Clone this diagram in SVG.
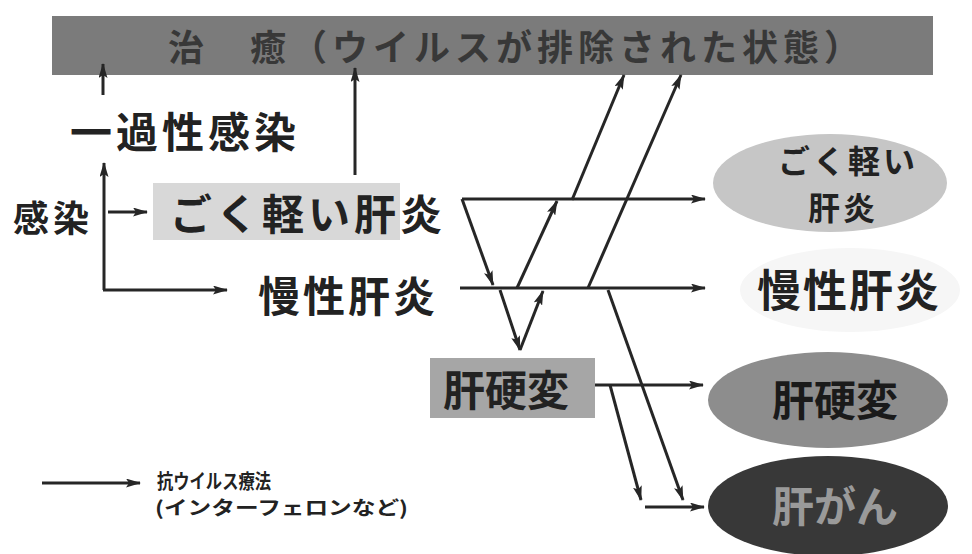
<svg xmlns="http://www.w3.org/2000/svg" width="972" height="554" viewBox="0 0 972 554">
<defs>
<marker id="ah" markerWidth="15" markerHeight="9" refX="14" refY="4.5" orient="auto" markerUnits="userSpaceOnUse">
<path d="M0,0 L15,4.5 L0,9 L3,4.5 z" fill="#262626"/>
</marker>
<style>
.t{font-family:"Noto Sans CJK JP","Noto Sans CJK SC",sans-serif;font-weight:bold;fill:#222}
.c{stroke:#262626;stroke-width:3;fill:none;marker-end:url(#ah)}
</style>
</defs>
<rect width="972" height="554" fill="#ffffff"/>

<g id="cure">
<rect x="52" y="16" width="881" height="59" fill="#7b7b7b"/>
<text class="t" x="168" y="61" font-size="36" letter-spacing="5" style="fill:#383838">治　癒（ウイルスが排除された状態）</text>
</g>

<g id="transient">
<text class="t" x="70" y="148" font-size="42" letter-spacing="4">一過性感染</text>
</g>

<g id="infection">
<text class="t" x="13" y="232" font-size="36" letter-spacing="4">感染</text>
</g>

<g id="mild-left">
<rect x="153" y="183" width="247" height="57" fill="#d8d8d8"/>
<text class="t" x="170" y="230" font-size="42" letter-spacing="4">ごく軽い肝炎</text>
</g>

<g id="chronic-left">
<text class="t" x="258" y="312" font-size="42" letter-spacing="3">慢性肝炎</text>
</g>

<g id="cirrhosis-left">
<rect x="430" y="358" width="165" height="60" fill="#a6a6a6"/>
<text class="t" x="443" y="406" font-size="42">肝硬変</text>
</g>

<g id="mild-right">
<ellipse cx="830" cy="183" rx="117" ry="49" fill="#c6c6c6"/>
<text class="t" font-size="32" letter-spacing="3" text-anchor="middle"><tspan x="848" y="173">ごく軽い</tspan><tspan x="843" y="220">肝炎</tspan></text>
</g>

<g id="chronic-right">
<ellipse cx="850" cy="290" rx="110" ry="42" fill="#f6f6f6"/>
<text class="t" x="757" y="307" font-size="44" letter-spacing="2">慢性肝炎</text>
</g>

<g id="cirrhosis-right">
<ellipse cx="828" cy="400" rx="120" ry="48" fill="#8d8d8d"/>
<text class="t" x="835" y="416" font-size="42" text-anchor="middle" style="fill:#1a1a1a">肝硬変</text>
</g>

<g id="cancer-right">
<ellipse cx="828" cy="506" rx="120" ry="50" fill="#383838"/>
<text class="t" x="835" y="522" font-size="42" text-anchor="middle" style="fill:#9a9a9a">肝がん</text>
</g>

<g id="legend">
<text class="t" x="157" y="489" font-size="20" textLength="114" lengthAdjust="spacingAndGlyphs">抗ウイルス療法</text>
<text class="t" x="155" y="515" font-size="19" textLength="253" lengthAdjust="spacingAndGlyphs">(インターフェロンなど)</text>
</g>

<g id="connectors">
<line class="c" x1="103" y1="95" x2="103" y2="64"/>
<line class="c" x1="355" y1="175" x2="355" y2="68"/>
<line class="c" x1="572" y1="200" x2="624" y2="75"/>
<line class="c" x1="588" y1="288" x2="681" y2="75"/>
<line class="c" x1="104" y1="290" x2="104" y2="163"/>
<line class="c" x1="103" y1="290" x2="227" y2="290"/>
<line class="c" x1="108" y1="212" x2="147" y2="212"/>
<line class="c" x1="462" y1="199" x2="705" y2="199"/>
<line class="c" x1="460" y1="288" x2="705" y2="288"/>
<line class="c" x1="462" y1="199" x2="493" y2="285"/>
<line class="c" x1="517" y1="288" x2="557" y2="201"/>
<line class="c" x1="500" y1="290" x2="520" y2="350"/>
<line class="c" x1="520" y1="350" x2="543" y2="291"/>
<line class="c" x1="608" y1="290" x2="683" y2="500"/>
<line class="c" x1="595" y1="385" x2="703" y2="385"/>
<line class="c" x1="610" y1="385" x2="641" y2="500"/>
<line class="c" x1="645" y1="507" x2="704" y2="507"/>
<line class="c" x1="42" y1="483" x2="140" y2="483"/>
</g>
</svg>
